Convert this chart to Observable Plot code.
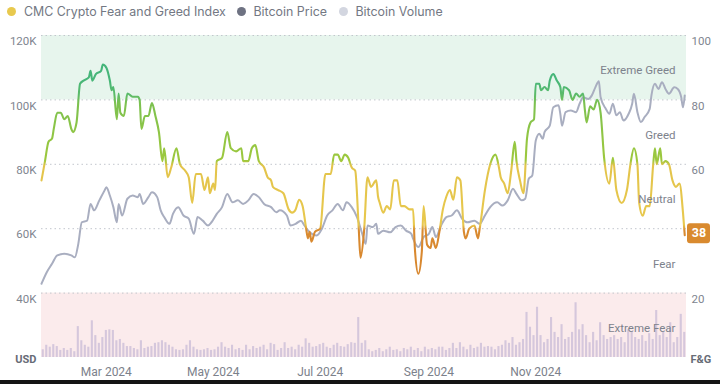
<!DOCTYPE html>
<html><head><meta charset="utf-8">
<script src="https://cdn.jsdelivr.net/npm/d3@7"></script>
<script src="https://cdn.jsdelivr.net/npm/@observablehq/plot@0.6"></script>
<style>
html,body{margin:0;padding:0;background:#fff;width:720px;height:384px;overflow:hidden;}
#legend{position:relative;height:22px;font:12.4px Inter, sans-serif;color:#737883;}
.item{position:absolute;top:0;height:22px;display:flex;align-items:center;white-space:nowrap;}
.dot{width:9px;height:9px;border-radius:50%;margin-right:8px;}
#chart{height:358px;}
#chart svg{display:block;}
#strip{height:4px;background:#151515;}
</style></head><body>
<div id="legend"></div>
<div id="chart"></div>
<div id="strip"></div>
<script>
// ---- data ----
const legendItems = [
  {name: "CMC Crypto Fear and Greed Index", color: "#e8c94e", left: 7},
  {name: "Bitcoin Price", color: "#6e7282", left: 236.5},
  {name: "Bitcoin Volume", color: "#d3d6e0", left: 338.5}
];
// days counted from 2024-01-01 (UTC)
const fgDay = [23,25,27,29,30,32,34,36,38,40,41,43,45,47,50,51,52,54,57,58,60,62,63,64,66,67,68,70,72,75,78,79,80,82,84,86,88,90,92,93,95,97,100,102,105,107,109,111,114,116,118,119,121,122,123,126,129,131,134,137,138,141,143,145,147,150,152,154,155,158,161,164,166,168,170,172,174,175,176,177,179,182,185,188,190,192,194,196,198,200,202,204,205,207,209,211,214,215,216,218,220,222,224,226,228,230,233,235,236,238,240,241,243,245,246,248,250,252,254,256,258,260,262,264,265,267,270,272,273,276,279,282,284,285,287,289,291,293,294,296,298,300,302,304,305,307,308,310,312,313,315,317,319,320,321,324,326,328,330,332,333,334,336,338,340,342,344,347,349,351,354,357,359,361,363,364,366,368,370,372,373,374,376,377,379,381,383,385,387,389,390];
const fgValue = [55,61,67,68,71,76,76,74,75,71,70,73,85,86,87,89,86,88,89,91,90,86,83,84,74,82,76,75,82,81,81,80,71,75,75,79,75,70,61,65,56,59,65,60,58,56,48,57,57,52,56,51,54,52,61,62,70,65,64,65,61,61,65,66,61,59,56,55,53,52,51,46,45,46,49,47,40,37,39,36,39,40,57,57,63,63,61,63,62,59,58,40,31,39,56,53,55,50,48,45,47,46,55,55,47,47,46,46,34,26,33,47,35,34,37,34,39,46,50,52,49,56,55,39,37,40,41,37,40,52,60,63,59,56,54,51,58,67,61,55,51,68,73,74,85,85,83,84,83,86,88,86,84,80,84,83,80,82,81,82,77,73,78,77,80,76,62,54,62,52,48,52,60,65,60,48,44,47,47,60,65,60,65,60,61,60,55,53,54,45,38];
const priceDay = [23,26,29,32,36,40,42,44,46,49,51,53,56,59,60,62,64,66,67,69,72,75,78,79,81,84,86,89,91,93,96,98,101,104,107,110,112,115,118,120,123,126,129,132,135,138,141,144,147,150,154,157,159,163,165,168,171,173,176,180,183,186,189,192,195,197,200,203,206,208,209,212,214,215,218,222,225,228,231,234,235,238,241,244,246,248,251,254,257,260,263,266,270,273,276,279,283,286,289,292,294,297,299,301,303,305,307,309,310,313,315,318,319,320,322,325,328,330,332,335,337,339,341,342,345,347,349,351,353,355,358,360,361,363,365,367,370,371,373,375,377,379,381,384,386,388,389,390];
const btcPriceK = [42.9,46.5,49.1,51.7,52.2,51.7,51.1,55.3,62.0,62.5,67.7,65.7,68.8,71.9,72.9,70.3,66.7,62.0,67.7,64.1,69.3,70.3,69.8,70.8,67.7,69.8,71.3,69.8,65.7,63.6,61.5,64.6,66.7,64.1,63.1,58.4,63.6,62.5,61.0,62.0,64.6,66.7,70.8,68.2,68.8,67.7,68.8,70.8,69.8,67.7,66.7,65.1,65.7,64.1,61.0,61.5,62.5,61.0,58.9,57.9,60.0,64.1,65.7,67.7,65.7,68.2,66.7,63.6,58.4,55.3,61.0,60.5,61.5,58.4,59.4,58.9,60.5,61.0,59.4,58.4,56.9,54.3,57.4,58.4,60.5,57.4,61.0,63.6,64.1,65.7,63.1,62.0,62.5,61.5,64.1,66.7,68.2,67.2,68.8,72.4,70.8,68.8,69.3,75.5,76.5,87.4,89.5,87.9,90.0,92.0,97.7,98.3,95.7,92.0,96.2,96.7,96.2,98.8,100.8,100.3,101.4,103.9,105.8,100.8,97.2,95.7,98.8,95.2,96.2,93.6,95.7,98.8,101.9,96.2,93.1,94.6,97.2,101.4,105.0,103.4,105.5,103.4,101.9,103.9,103.4,100.8,97.7,101.4];
// volume in billions USD, one bar per two days starting 2024-01-24
const volumeStartDay = 23, volumeStepDays = 2;
const volumeB = [12,19,16,20,17,11,14,11,14,9,48,26,19,16,57,34,22,31,42,43,42,26,28,22,17,17,14,12,26,14,16,17,22,23,26,23,19,16,12,11,12,19,26,16,12,11,12,14,11,12,16,23,16,14,19,12,14,11,19,12,17,14,16,19,12,22,20,11,14,23,14,16,12,19,16,29,22,16,17,20,22,16,14,19,22,17,16,20,23,22,62,22,26,12,9,11,14,9,12,16,11,12,9,14,12,16,11,14,9,16,12,14,12,16,16,11,14,22,14,23,16,12,19,14,16,22,16,17,16,12,17,19,26,22,31,19,23,28,70,47,34,78,34,23,28,62,39,31,51,28,31,39,85,43,51,34,23,39,26,54,34,28,31,34,28,31,23,43,39,31,28,34,25,37,28,73,34,39,31,54,23,31,67,39];
const bandLabels = [
  {name: "Extreme Greed", mid: 90},
  {name: "Greed", mid: 70},
  {name: "Neutral", mid: 50},
  {name: "Fear", mid: 30},
  {name: "Extreme Fear", mid: 10}
];
// colour of the F&G line by index value (gradient stops)
const fgColorStops = [
  {v: 100, c: "#3db37d"}, {v: 86, c: "#47b678"}, {v: 81.5, c: "#5cbb69"},
  {v: 79, c: "#7cc150"}, {v: 68, c: "#92c643"}, {v: 61.2, c: "#9dc83d"},
  {v: 59.6, c: "#e3c44b"}, {v: 41.2, c: "#e8c84d"}, {v: 39.6, c: "#d98a30"},
  {v: 0, c: "#d5802a"}
];
const xTicks = ["2024-03-01", "2024-05-01", "2024-07-01", "2024-09-01", "2024-11-01"];
const gridTicks = [20, 40, 60, 80, 100];   // F&G units
const leftTicks = [20, 40, 60, 80, 100];   // labelled as USD price (F&G + 20K)
const rightTicks = [20, 60, 80, 100];
const latestFG = 38;
const domainStartDay = 23, domainEndDay = 391;

// ---- legend ----
const legend = document.getElementById("legend");
for (const it of legendItems) {
  const el = document.createElement("div");
  el.className = "item";
  el.style.left = it.left + "px";
  el.innerHTML = `<span class="dot" style="background:${it.color}"></span><span>${it.name}</span>`;
  legend.appendChild(el);
}

// ---- chart ----
const day = d => new Date(Date.UTC(2024, 0, 1 + d));
const fg = fgDay.map((d, i) => ({date: day(d), v: fgValue[i]}));
const price = priceDay.map((d, i) => ({date: day(d), v: btcPriceK[i]}));
const vol = volumeB.map((v, i) => ({
  d1: day(volumeStartDay + volumeStepDays * i),
  d2: day(volumeStartDay + volumeStepDays * (i + 1)),
  v
}));
const xEnd = day(domainEndDay);
const AX = "Roboto, sans-serif";

const chart = Plot.plot({
  width: 720, height: 358,
  marginTop: 13, marginBottom: 23, marginLeft: 41, marginRight: 34,
  style: {fontFamily: "Inter, sans-serif", fontSize: "12px", background: "transparent", overflow: "visible"},
  x: {type: "utc", domain: [day(domainStartDay), xEnd]},
  y: {domain: [0, 100]},
  marks: [
    Plot.rect([{y1: 80, y2: 100}], {y1: "y1", y2: "y2", fill: "#e7f5ed"}),
    Plot.rect([{y1: 0, y2: 20}], {y1: "y1", y2: "y2", fill: "#fbebec"}),
    Plot.ruleY(gridTicks, {stroke: "#c2c6cd", strokeDasharray: "1.5,3"}),
    Plot.rectY(vol, {x1: "d1", x2: "d2", y1: 0, y2: d => d.v / 5, fill: "#d5c7dc", insetLeft: 0.7, insetRight: 0.7}),
    Plot.line(price, {x: "date", y: d => d.v - 20, stroke: "#a9aec0", strokeWidth: 2, curve: "monotone-x", strokeLinejoin: "round"}),
    Plot.line(fg, {x: "date", y: "v", stroke: "url(#fgGrad)", strokeWidth: 2.1, curve: "monotone-x", strokeLinejoin: "round", strokeLinecap: "round"}),
    Plot.text(bandLabels, {y: "mid", text: "name", frameAnchor: "right", dx: -11, dy: 3, textAnchor: "end", fill: "#7d828c", fontSize: 11.5, fontFamily: AX}),
    Plot.axisY(leftTicks, {anchor: "left", tickSize: 0, tickPadding: 5, dy: 6, tickFormat: d => `${d + 20}K`, fill: "#80858f", fontSize: 11.5, fontFamily: AX, label: null}),
    Plot.axisY(rightTicks, {anchor: "right", tickSize: 0, tickPadding: 5, dy: 6, fill: "#80858f", fontSize: 11.5, fontFamily: AX, label: null}),
    Plot.axisX(xTicks.map(s => new Date(s)), {tickSize: 0, tickPadding: 10, tickFormat: d3.utcFormat("%b %Y"), fill: "#7c818b", fontSize: 12, fontFamily: AX, label: null}),
    Plot.text(["USD"], {text: d => d, frameAnchor: "bottom-left", dx: -5, dy: 5, textAnchor: "end", fontWeight: "bold", fill: "#676c76", fontSize: 11, fontFamily: AX}),
    Plot.text(["F&G"], {text: d => d, frameAnchor: "bottom-right", dx: 4, dy: 5, textAnchor: "start", fontWeight: "bold", fill: "#676c76", fontSize: 11, fontFamily: AX}),
    Plot.rect([latestFG], {x1: () => xEnd, x2: () => xEnd, y1: d => d, y2: d => d, insetLeft: 1, insetRight: -24, insetTop: -11.5, insetBottom: -8.5, rx: 3, fill: "#d98a2f"}),
    Plot.text([latestFG], {x: () => xEnd, y: d => d, text: d => `${d}`, dx: 12.5, dy: -2, fill: "#ffffff", fontWeight: "bold", fontSize: 12.5, fontFamily: AX})
  ]
});

// vertical gradient for the F&G line, positioned with Plot's own y scale
const ys = chart.scale("y");
const NS = "http://www.w3.org/2000/svg";
const defs = document.createElementNS(NS, "defs");
const grad = document.createElementNS(NS, "linearGradient");
grad.setAttribute("id", "fgGrad");
grad.setAttribute("gradientUnits", "userSpaceOnUse");
grad.setAttribute("x1", 0); grad.setAttribute("x2", 0);
grad.setAttribute("y1", ys.apply(100)); grad.setAttribute("y2", ys.apply(0));
for (const s of fgColorStops) {
  const st = document.createElementNS(NS, "stop");
  st.setAttribute("offset", (100 - s.v) / 100);
  st.setAttribute("stop-color", s.c);
  grad.appendChild(st);
}
defs.appendChild(grad);
chart.insertBefore(defs, chart.firstChild);
document.getElementById("chart").appendChild(chart);
</script>
</body></html>
